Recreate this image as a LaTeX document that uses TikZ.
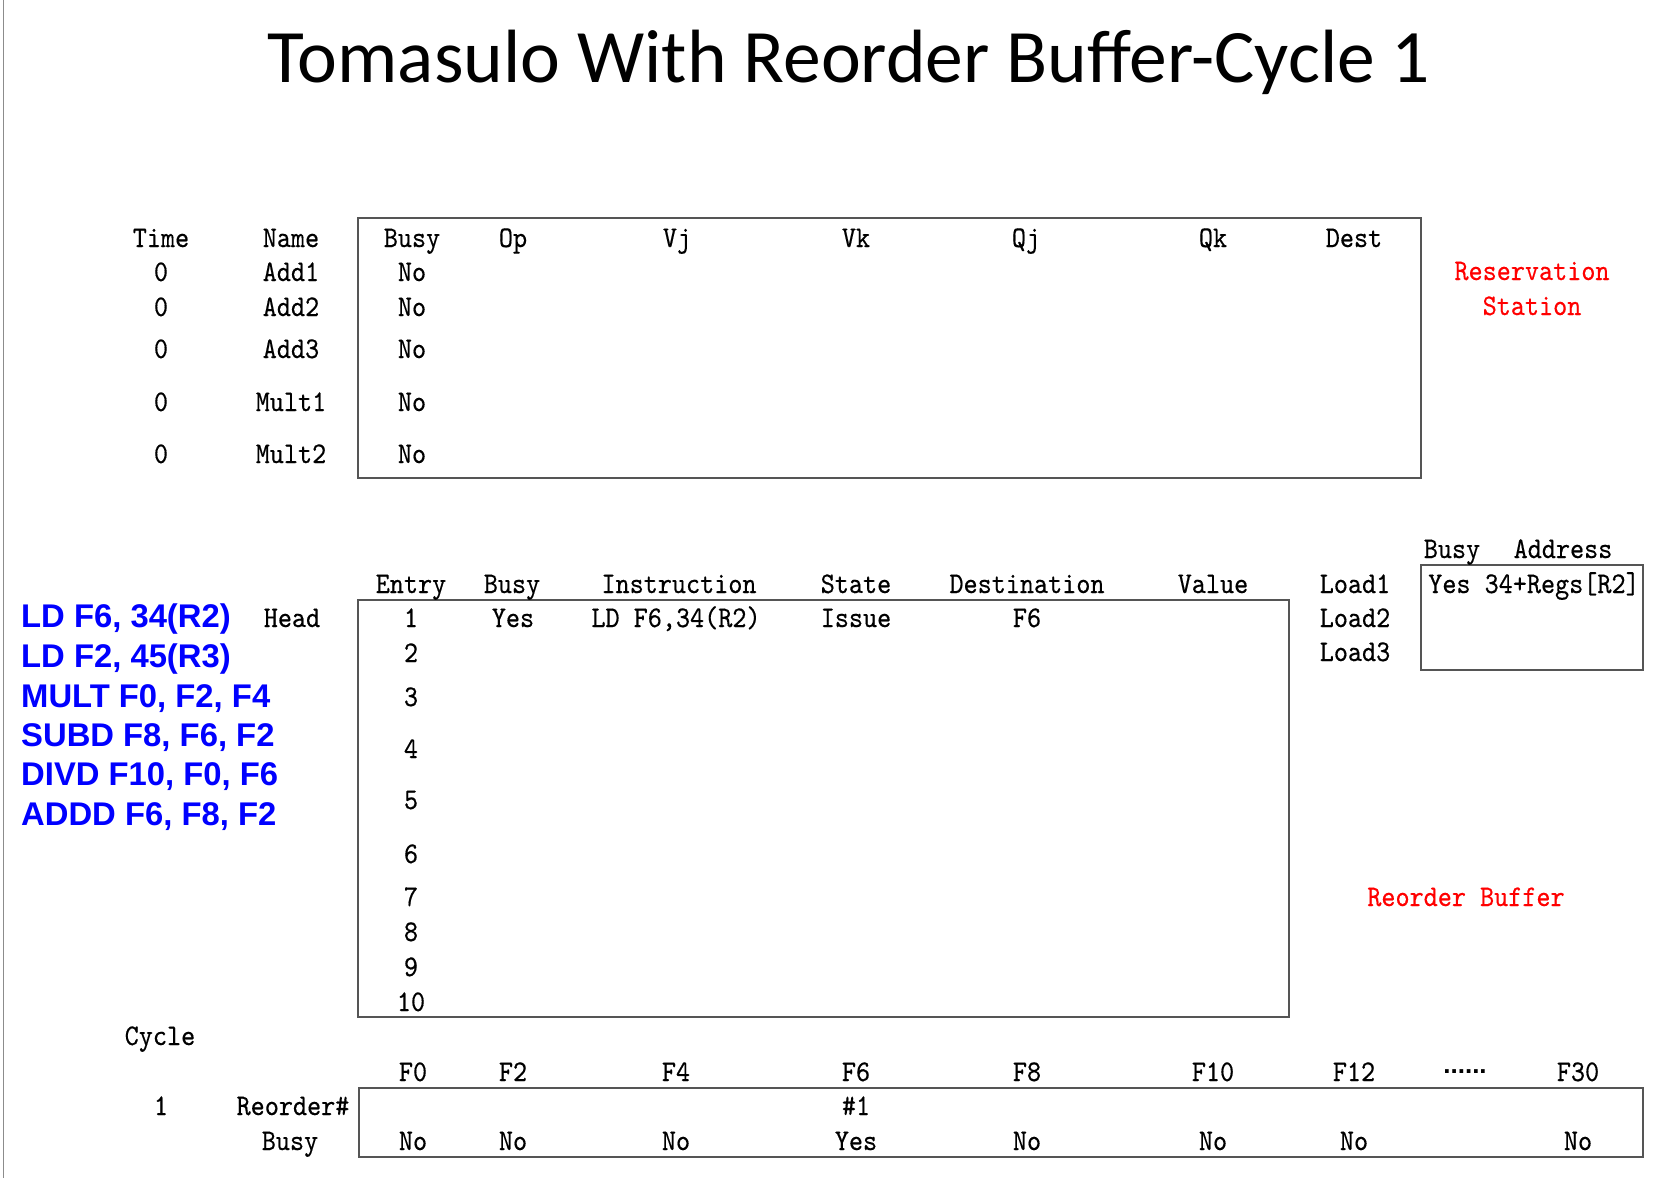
\documentclass[tikz,border=0pt]{standalone}
\usepackage{fontspec}
\newfontfamily\simf{lmmono10-regular.otf}[FakeStretch=0.895,FakeBold=0.4]
\newfontfamily\titlef{Carlito}
\newfontfamily\instf{Liberation Sans}
\definecolor{boxgray}{RGB}{85,85,85}
\definecolor{edgegray}{RGB}{140,140,140}
\definecolor{pureblue}{RGB}{0,0,255}
\definecolor{purered}{RGB}{255,0,0}
\tikzset{
  txt/.style={anchor=base, inner sep=0pt, font=\simf\fontsize{30}{32}\selectfont},
  redtxt/.style={txt, text=purered},
  inst/.style={anchor=base west, inner sep=0pt, text=pureblue, font=\instf\bfseries\fontsize{32.8}{34}\selectfont},
  tbox/.style={draw=boxgray, line width=2pt},
  dotstxt/.style={anchor=base, inner sep=0pt, font=\instf\bfseries\fontsize{26}{28}\selectfont}
}
\begin{document}
\begin{tikzpicture}[x=1pt,y=-1pt]
\useasboundingbox (0,0) rectangle (1676,1178);
\fill[white] (0,0) rectangle (1676,1178);
\draw[edgegray, line width=1.5pt] (3.5,0) -- (3.5,1178);

% title
\node[anchor=base, inner sep=0pt, font=\titlef\fontsize{75.5}{80}\selectfont] (title) at (849,82) {Tomasulo With Reorder Buffer-Cycle 1};

% reservation station box
\draw[tbox] (358,218) rectangle (1421,478);
\node[txt] (rsTime) at (161,247) {Time};
\node[txt] (rsName) at (291,247) {Name};
\node[txt] (rsBusy) at (412,247) {Busy};
\node[txt] (rsOp) at (513,247) {Op};
\node[txt] (rsVj) at (677,247) {Vj};
\node[txt] (rsVk) at (856,247) {Vk};
\node[txt] (rsQj) at (1026,247) {Qj};
\node[txt] (rsQk) at (1213,247) {Qk};
\node[txt] (rsDest) at (1354,247) {Dest};
\foreach \nm/\yy [count=\i] in {Add1/281,Add2/316,Add3/358,Mult1/411,Mult2/463}{
  \node[txt] (rsT\i) at (161,\yy) {0};
  \node[txt] (rsN\i) at (291,\yy) {\nm};
  \node[txt] (rsB\i) at (412,\yy) {No};
}
\node[redtxt] (rsLab1) at (1532,280) {Reservation};
\node[redtxt] (rsLab2) at (1532,315) {Station};

% load buffers
\draw[tbox] (1421,565) rectangle (1643,670);
\node[txt] (ldBusy) at (1452,558) {Busy};
\node[txt] (ldAddr) at (1563,558) {Address};
\node[txt] (ld1) at (1355,593) {Load1};
\node[txt] (ld2) at (1355,627) {Load2};
\node[txt] (ld3) at (1355,661) {Load3};
\node[txt] (ld1v) at (1534,593) {Yes 34+Regs[R2]};

% reorder buffer
\draw[tbox] (358,600) rectangle (1289,1017);
\node[txt] (robEntry) at (411,593) {Entry};
\node[txt] (robBusy) at (512,593) {Busy};
\node[txt] (robInst) at (679,593) {Instruction};
\node[txt] (robState) at (856,593) {State};
\node[txt] (robDest) at (1027,593) {Destination};
\node[txt] (robVal) at (1213,593) {Value};
\foreach \e/\yy in {1/627,2/662,3/706,4/758,5/809,6/863,7/906,8/941,9/976,10/1011}{
  \node[txt] (robE\e) at (411,\yy) {\e};
}
\node[txt] (head) at (292,627) {Head};
\node[txt] (rob1b) at (513,627) {Yes};
\node[txt] (rob1i) at (676,627) {LD F6,34(R2)};
\node[txt] (rob1s) at (856,627) {Issue};
\node[txt] (rob1d) at (1027,627) {F6};
\node[redtxt] (robLab) at (1466,906) {Reorder Buffer};

% instructions
\node[inst] (i1) at (21,627) {LD F6, 34(R2)};
\node[inst] (i2) at (21,667) {LD F2, 45(R3)};
\node[inst] (i3) at (21,707) {MULT F0, F2, F4};
\node[inst] (i4) at (21,746) {SUBD F8, F6, F2};
\node[inst] (i5) at (21,785) {DIVD F10, F0, F6};
\node[inst] (i6) at (21,825) {ADDD F6, F8, F2};

% register result status
\draw[tbox] (359,1088) rectangle (1643,1157);
\node[txt] (cycle) at (160,1045) {Cycle};
\node[txt] (cyc1) at (161,1115) {1};
\node[txt] (regRO) at (293,1115) {Reorder\#};
\node[txt] (regBusy) at (290,1150) {Busy};
\foreach \r/\xx/\bv in {F0/413/No,F2/513/No,F4/676/No,F6/856/Yes,F8/1027/No,F10/1213/No,F12/1354/No,F30/1578/No}{
  \node[txt] (reg\r) at (\xx,1081) {\r};
  \node[txt] (busy\r) at (\xx,1150) {\bv};
}
\node[dotstxt] (regDots) at (1465,1073) {......};
\node[txt] (regF6r) at (856,1115) {\#1};
\end{tikzpicture}
\end{document}
